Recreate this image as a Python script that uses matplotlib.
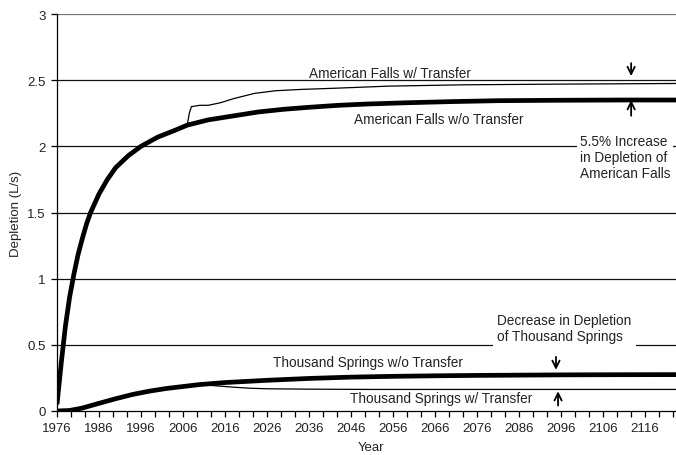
import numpy as np
import matplotlib
matplotlib.use("Agg")
import matplotlib.pyplot as plt
from matplotlib.ticker import FixedLocator

plt.rcParams['font.family'] = ['Liberation Sans', 'DejaVu Sans']

# American Falls depletion without transfer
af_wo_years = [1976, 1977, 1978, 1979, 1980, 1981, 1982, 1983, 1984, 1986, 1988,
               1990, 1993, 1996, 2000, 2004, 2007, 2012, 2018, 2024, 2030, 2036,
               2043, 2050, 2060, 2070, 2081, 2095, 2110, 2124]
af_wo_vals = [0.05, 0.36, 0.64, 0.86, 1.03, 1.18, 1.30, 1.41, 1.50, 1.64, 1.75,
              1.84, 1.93, 2.00, 2.07, 2.12, 2.16, 2.20, 2.23, 2.26, 2.28, 2.295,
              2.31, 2.32, 2.33, 2.338, 2.345, 2.348, 2.35, 2.35]

# American Falls depletion with transfer (diverges from 2007)
af_w_years = [2007, 2007.5, 2008, 2010, 2012, 2015, 2018, 2023, 2028, 2034, 2043,
              2055, 2073, 2095, 2124]
af_w_vals = [2.16, 2.25, 2.30, 2.31, 2.31, 2.33, 2.36, 2.40, 2.42, 2.43, 2.44,
             2.455, 2.465, 2.47, 2.475]

# Thousand Springs depletion without transfer
ts_wo_years = [1976, 1979, 1982, 1986, 1990, 1994, 1998, 2002, 2006, 2010, 2016,
               2026, 2036, 2046, 2056, 2066, 2076, 2086, 2096, 2106, 2124]
ts_wo_vals = [0.0, 0.004, 0.022, 0.058, 0.093, 0.125, 0.150, 0.170, 0.185, 0.200,
              0.215, 0.232, 0.246, 0.256, 0.262, 0.266, 0.269, 0.271, 0.273,
              0.274, 0.275]

# Thousand Springs depletion with transfer (diverges from 2010)
ts_w_years = [2010, 2014, 2018, 2022, 2026, 2036, 2050, 2070, 2090, 2124]
ts_w_vals = [0.200, 0.190, 0.180, 0.172, 0.168, 0.165, 0.163, 0.163, 0.163, 0.163]

x_major = list(range(1976, 2117, 10))
y_major = [0, 0.5, 1, 1.5, 2, 2.5, 3]

W, H = 676, 456
fig = plt.figure(figsize=(W / 100, H / 100), dpi=100)
ax = fig.add_axes([57 / W, 1 - 412 / H, 1 - 57 / W, (412 - 15) / H])

x0, x1 = 1976, 1976 + (W - 57) / 4.2
ax.set_xlim(x0, x1)
ax.set_ylim(0, 3)

# horizontal gridlines
for y in y_major[1:]:
    ax.axhline(y, color='#111111' if y < 3 else '#777777', lw=0.9, zorder=1)

ax.plot(af_wo_years, af_wo_vals, color='black', lw=3.4, zorder=3,
        solid_capstyle='butt')
ax.plot(af_w_years, af_w_vals, color='black', lw=0.9, zorder=3)
ax.plot(ts_wo_years, ts_wo_vals, color='black', lw=3.4, zorder=3,
        solid_capstyle='butt')
ax.plot(ts_w_years, ts_w_vals, color='black', lw=0.9, zorder=3)

for s in ['top', 'right']:
    ax.spines[s].set_visible(False)
ax.spines['left'].set_linewidth(0.9)
ax.spines['bottom'].set_linewidth(0.9)

ax.set_xticks(x_major)
ax.xaxis.set_minor_locator(FixedLocator(np.arange(1976, x1, 10 / 3)))
ax.set_yticks(y_major)
ax.set_yticklabels(['0', '0.5', '1', '1.5', '2', '2.5', '3'])
ax.tick_params(axis='both', which='both', direction='out', length=4, width=0.9,
               labelsize=9.5, color='black', labelcolor='#222222')
ax.tick_params(axis='x', pad=4)
ax.tick_params(axis='y', pad=4)

fig.text(371 / W, 1 - 448 / H, 'Year', ha='center', va='center',
         fontsize=9.5, color='#222222')
ax.set_ylabel('Depletion (L/s)', fontsize=9.5, color='#222222', labelpad=4)

tk = dict(fontsize=9.8, color='#222222', zorder=4)
ax.text(2055.2, 2.505, 'American Falls w/ Transfer', ha='center', va='bottom', **tk)
ax.text(2067.0, 2.21, 'American Falls w/o Transfer', ha='center', va='center', **tk)
ax.text(2100.5, 1.92, '5.5% Increase\nin Depletion of\nAmerican Falls',
        ha='left', va='center', linespacing=1.2,
        bbox=dict(facecolor='white', edgecolor='none', pad=2), **tk)
ax.text(2080.8, 0.625, 'Decrease in Depletion\nof Thousand Springs',
        ha='left', va='center', linespacing=1.2,
        bbox=dict(facecolor='white', edgecolor='none', pad=3), **tk)
ax.text(2050.0, 0.37, 'Thousand Springs w/o Transfer', ha='center', va='center', **tk)
ax.text(2067.5, 0.10, 'Thousand Springs w/ Transfer', ha='center', va='center', **tk)

arr = dict(arrowstyle='->', color='black', lw=1.3, mutation_scale=13)
ax.annotate('', xy=(2112.7, 2.51), xytext=(2112.7, 2.65), arrowprops=arr, zorder=5)
ax.annotate('', xy=(2112.7, 2.37), xytext=(2112.7, 2.21), arrowprops=arr, zorder=5)
ax.annotate('', xy=(2094.8, 0.29), xytext=(2094.8, 0.43), arrowprops=arr, zorder=5)
ax.annotate('', xy=(2095.3, 0.17), xytext=(2095.3, 0.02), arrowprops=arr, zorder=5)

fig.savefig('out.png', dpi=100)
